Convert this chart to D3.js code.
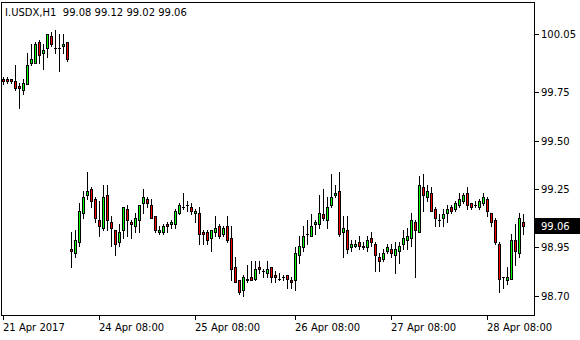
<!DOCTYPE html>
<html><head><meta charset="utf-8">
<script src="https://cdn.jsdelivr.net/npm/d3@7"></script>
<style>body{margin:0;background:#fff}svg{display:block}</style>
</head><body>
<svg id="chart" width="580" height="340"></svg>
<script>
const symbolTitle = "I.USDX,H1";
const opens = [99.82,99.82,99.82,99.81,99.78,99.76,99.79,99.90,99.90,100.01,99.95,99.98,100.04,99.98,99.98,99.99,100.01,
98.94,98.92,98.98,99.13,99.22,99.25,99.20,99.09,99.05,99.22,99.08,99.04,98.98,99.04,99.15,99.08,99.06,99.09,99.18,99.20,99.17,99.11,99.03,99.03,99.07,99.07,99.07,99.13,99.16,99.17,99.16,99.13,99.13,
99.03,99.03,99.00,99.03,99.06,99.02,99.06,99.00,98.85,98.78,98.73,98.79,98.80,98.79,98.85,98.83,98.82,98.85,98.81,98.79,98.80,98.81,98.78,98.78,98.91,98.95,99.02,99.01,99.07,99.07,99.12,99.09,
99.17,99.22,99.24,99.03,99.04,98.95,98.96,98.98,98.95,98.95,99.00,98.97,98.90,98.89,98.93,98.94,98.91,98.93,98.97,98.99,99.00,99.08,99.03,99.26,99.21,99.23,99.15,99.09,99.10,99.13,99.16,99.15,99.17,99.19,99.23,99.18,99.17,99.16,99.18,99.20,99.13,99.09,98.97,98.80,98.78,98.79,98.99,98.92,99.08];
const highs = [99.83,99.83,99.82,99.89,99.80,99.82,99.95,100.00,100.01,100.02,100.00,100.05,100.06,100.07,100.05,100.05,100.01,
99.03,99.04,99.18,99.24,99.34,99.26,99.21,99.19,99.27,99.27,99.11,99.04,99.07,99.16,99.17,99.09,99.13,99.17,99.25,99.21,99.20,99.11,99.06,99.07,99.08,99.09,99.15,99.18,99.23,99.19,99.18,99.15,99.16,
99.04,99.04,99.04,99.11,99.07,99.06,99.11,99.06,98.90,98.78,98.81,98.86,98.88,98.88,98.88,98.84,98.88,98.85,98.83,98.82,98.81,98.81,98.80,98.95,99.01,99.06,99.09,99.12,99.09,99.22,99.25,99.21,
99.33,99.27,99.34,99.11,99.11,98.99,98.99,99.01,98.98,99.01,99.03,98.98,98.92,98.94,98.97,98.97,98.98,98.98,99.04,99.05,99.13,99.09,99.32,99.33,99.27,99.26,99.16,99.12,99.15,99.17,99.17,99.19,99.23,99.23,99.26,99.18,99.19,99.20,99.23,99.21,99.13,99.10,98.98,98.80,98.85,99.02,99.07,99.13,99.12];
const lows = [99.79,99.80,99.80,99.76,99.67,99.74,99.79,99.89,99.90,99.90,99.87,99.93,99.99,99.95,99.86,99.95,99.91,
98.85,98.90,98.96,99.10,99.20,99.16,99.08,99.01,99.04,99.04,98.96,98.91,98.96,99.00,99.01,99.00,99.03,99.03,99.13,99.16,99.10,99.03,99.02,99.02,99.03,99.05,99.05,99.12,99.15,99.14,99.12,99.08,98.97,
98.97,98.97,98.93,99.01,99.00,99.01,98.98,98.78,98.77,98.71,98.70,98.77,98.78,98.78,98.82,98.80,98.80,98.77,98.77,98.78,98.78,98.74,98.74,98.73,98.87,98.93,98.97,99.01,99.02,99.05,99.09,99.05,
99.16,99.21,99.01,98.90,98.92,98.93,98.95,98.94,98.94,98.93,98.96,98.83,98.83,98.88,98.92,98.90,98.82,98.87,98.94,98.94,98.96,98.80,99.03,99.14,99.19,99.14,99.06,99.06,99.06,99.08,99.13,99.14,99.16,99.18,99.15,99.15,99.16,99.15,99.17,99.11,99.06,98.97,98.72,98.74,98.76,98.79,98.86,98.90,99.02];
const closes = [99.81,99.81,99.81,99.77,99.77,99.80,99.89,99.92,100.00,99.94,99.97,100.05,100.00,99.98,99.98,100.00,99.92,
98.93,98.99,99.14,99.21,99.24,99.19,99.10,99.06,99.21,99.09,99.05,98.97,99.03,99.16,99.09,99.07,99.10,99.17,99.21,99.18,99.10,99.04,99.04,99.06,99.06,99.08,99.14,99.17,99.16,99.17,99.14,99.14,99.02,
99.02,98.99,99.04,99.05,99.01,99.05,98.99,98.84,98.77,98.72,98.80,98.78,98.78,98.84,98.84,98.83,98.84,98.80,98.80,98.79,98.80,98.79,98.77,98.92,98.96,99.01,99.02,99.06,99.08,99.13,99.10,99.16,
99.21,99.23,99.02,99.05,98.94,98.97,98.97,98.96,98.96,98.99,98.98,98.91,98.88,98.92,98.95,98.92,98.94,98.96,99.00,99.01,99.09,99.04,99.27,99.22,99.24,99.14,99.10,99.09,99.12,99.15,99.14,99.18,99.20,99.22,99.17,99.16,99.17,99.19,99.21,99.14,99.08,98.98,98.79,98.80,98.80,98.99,98.93,99.10,99.06];
const timeLabels = ["21 Apr 2017","24 Apr 08:00","25 Apr 08:00","26 Apr 08:00","27 Apr 08:00","28 Apr 08:00"];
const timeLabelBars = [0,24,48,73,97,121];
const priceTicks = [100.05,99.75,99.50,99.25,98.95,98.70];
const priceTickLabels = ["100.05","99.75","99.50","99.25","98.95","98.70"];

const svg = d3.select("#chart");
const font = "DejaVu Sans";
const n = closes.length;
const x = d3.scaleLinear().domain([0, n - 1]).range([3, 3 + 4 * (n - 1)]);
const y = d3.scaleLinear().domain([98.70, 100.05]).range([296, 34]);
const px = v => Math.round(x(v));
const py = v => Math.round(y(v));

// frame
svg.append("rect").attr("x",1.5).attr("y",2.5).attr("width",533).attr("height",313)
  .attr("fill","none").attr("stroke","#000").attr("shape-rendering","crispEdges");

// title
const last = n - 1;
svg.append("text").attr("x",5).attr("y",16).attr("font-family",font).attr("font-size",10).attr("fill","#000")
  .attr("xml:space","preserve")
  .text(symbolTitle + "  " + [opens[last],highs[last],lows[last],closes[last]].map(v=>v.toFixed(2)).join(" "));

// candles
const g = svg.append("g").attr("shape-rendering","crispEdges");
d3.range(n).forEach(i => {
  const cx = px(i);
  g.append("line").attr("x1",cx+0.5).attr("x2",cx+0.5).attr("y1",py(highs[i])).attr("y2",py(lows[i])+1)
    .attr("stroke","#000");
  const top = py(Math.max(opens[i],closes[i])), bot = py(Math.min(opens[i],closes[i]));
  if (bot - top < 1) {
    g.append("line").attr("x1",cx-1).attr("x2",cx+2).attr("y1",top+0.5).attr("y2",top+0.5).attr("stroke","#000");
  } else {
    g.append("rect").attr("x",cx-0.5).attr("y",top+0.5).attr("width",2).attr("height",bot-top)
      .attr("fill", closes[i] > opens[i] ? "#00ff00" : "#ff0000").attr("stroke","#000");
  }
});

// price axis
const ya = svg.append("g");
priceTicks.forEach((t,k) => {
  const yy = py(t);
  ya.append("line").attr("x1",535).attr("x2",539).attr("y1",yy+0.5).attr("y2",yy+0.5).attr("stroke","#000").attr("shape-rendering","crispEdges");
  ya.append("text").attr("x",541).attr("y",yy).attr("dy","0.36em").attr("font-family",font).attr("font-size",10)
    .attr("fill","#000").text(priceTickLabels[k]);
});
// current price label
const cy = py(closes[last]);
svg.append("rect").attr("x",535).attr("y",cy-8).attr("width",45).attr("height",16).attr("fill","#000");
svg.append("text").attr("x",541).attr("y",cy).attr("dy","0.36em").attr("font-family",font).attr("font-size",10)
  .attr("fill","#fff").text(closes[last].toFixed(2));

// time axis
const xa = svg.append("g");
timeLabelBars.forEach((b,k) => {
  const xx = px(b);
  xa.append("line").attr("x1",xx+0.5).attr("x2",xx+0.5).attr("y1",316).attr("y2",320).attr("stroke","#000").attr("shape-rendering","crispEdges");
  xa.append("text").attr("x",xx).attr("y",331).attr("font-family",font).attr("font-size",10).attr("fill","#000").text(timeLabels[k]);
});
</script>
</body></html>
